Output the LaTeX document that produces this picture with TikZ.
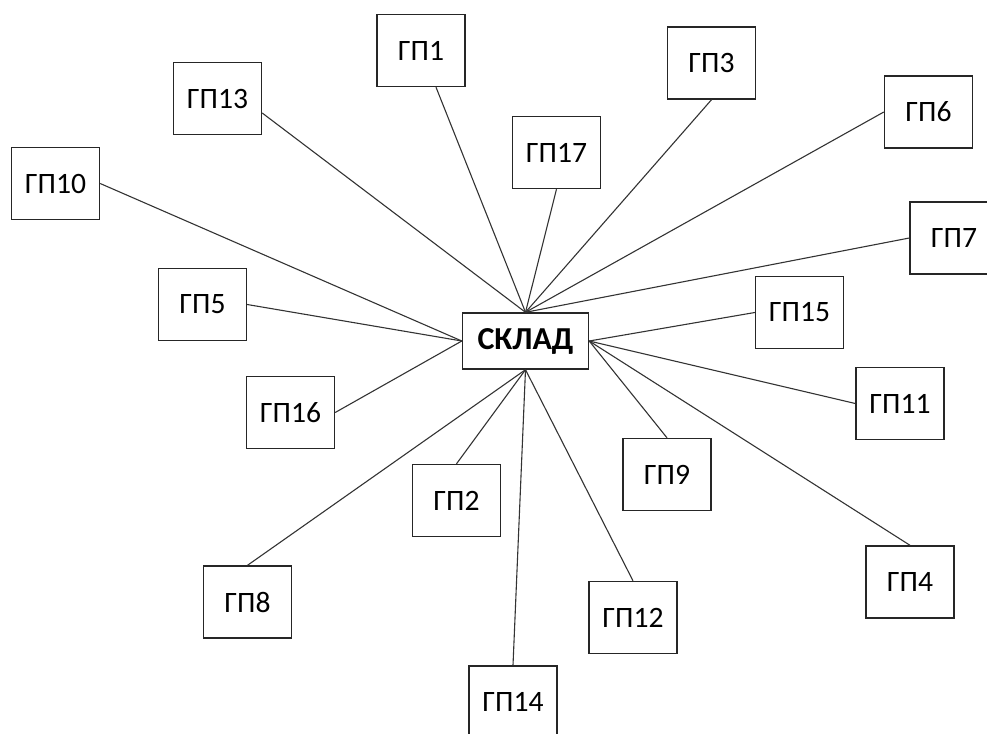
\documentclass[tikz,border=0pt]{standalone}
\usepackage{fontspec}
\setmainfont{Carlito}
\begin{document}
\begin{tikzpicture}[x=0.5pt,y=-0.5pt,
  gp/.style={draw=black!85, line width=0.7pt, fill=white, minimum width=44pt, minimum height=36pt, inner sep=0pt, font=\fontsize{14.8}{17}\selectfont},
  hub/.style={draw=black!85, line width=0.7pt, fill=white, minimum width=63pt, minimum height=28pt, inner sep=0pt, font=\fontsize{16}{19}\selectfont\bfseries},
  link/.style={draw=black!80, line width=0.55pt}]
\useasboundingbox (0,0) rectangle (987,734);
\node[hub] (s) at (525.5,341) {СКЛАД};
\node[gp] (g1) at (421,50.5) {ГП1};
\node[gp] (g13) at (217.5,98.5) {ГП13};
\node[gp] (g10) at (55.5,183.5) {ГП10};
\node[gp] (g5) at (202.5,304.5) {ГП5};
\node[gp] (g16) at (290.5,412.5) {ГП16};
\node[gp] (g2) at (456.5,500.5) {ГП2};
\node[gp] (g8) at (247.5,602) {ГП8};
\node[gp] (g17) at (556.5,152.5) {ГП17};
\node[gp] (g3) at (711.5,63) {ГП3};
\node[gp] (g6) at (928.5,112) {ГП6};
\node[gp] (g7) at (954,238) {ГП7};
\node[gp] (g15) at (799.5,312.5) {ГП15};
\node[gp] (g11) at (900,403.5) {ГП11};
\node[gp] (g9) at (667,474.5) {ГП9};
\node[gp] (g4) at (910,582) {ГП4};
\node[gp] (g12) at (633,617.5) {ГП12};
\node[gp] (g14) at (513,702) {ГП14};
\draw[link] ([xshift=7.5pt]g1.south) -- (s.north);
\draw[link] ([yshift=-7.25pt]g13.east) -- (s.north);
\draw[link] (g17.south) -- (s.north);
\draw[link] (g3.south) -- (s.north);
\draw[link] (g6.west) -- (s.north);
\draw[link] (g7.west) -- (s.north);
\draw[link] (g10.east) -- (s.west);
\draw[link] (g5.east) -- (s.west);
\draw[link] (g16.east) -- (s.west);
\draw[link] (g15.west) -- (s.east);
\draw[link] (g11.west) -- (s.east);
\draw[link] (g9.north) -- (s.east);
\draw[link] (g4.north) -- (s.east);
\draw[link] (g2.north) -- (s.south);
\draw[link] (g8.north) -- (s.south);
\draw[link] (g12.north) -- (s.south);
\draw[link] (g14.north) -- (s.south);
\end{tikzpicture}
\end{document}
